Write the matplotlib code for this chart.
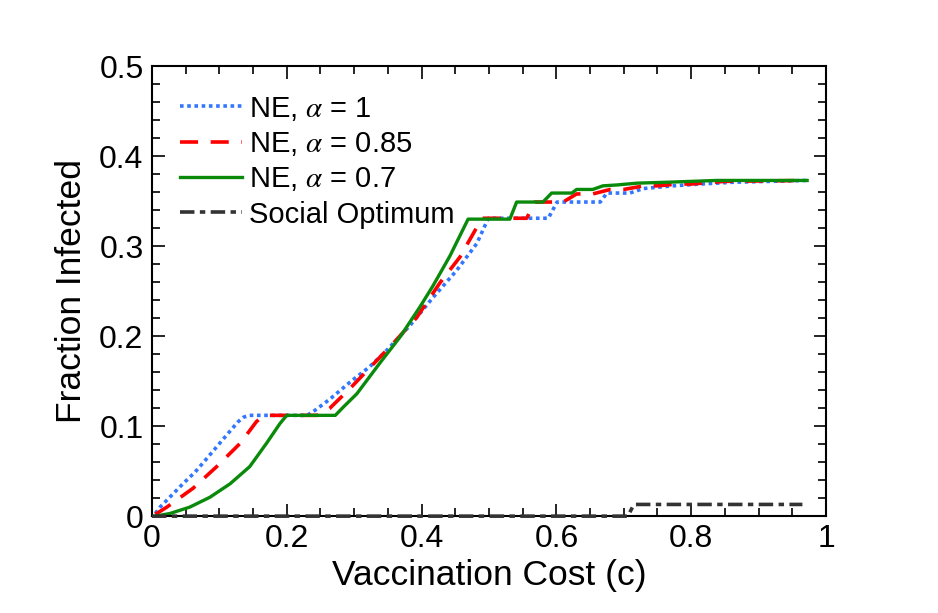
import matplotlib
matplotlib.use("Agg")
import matplotlib.pyplot as plt
from matplotlib.ticker import MultipleLocator, FormatStrFormatter

plt.rcParams['font.family'] = ['Liberation Sans', 'DejaVu Sans']
plt.rcParams['mathtext.fontset'] = 'stix'

# values
blue_x = [0.005, 0.012, 0.029, 0.046, 0.064, 0.079, 0.096, 0.113, 0.128, 0.136, 0.145, 0.23,
          0.239, 0.264, 0.294, 0.323, 0.348, 0.383, 0.417, 0.452, 0.482, 0.499, 0.588,
          0.601, 0.665, 0.675, 0.709, 0.729, 0.773, 0.813, 0.862, 0.972]
blue_y = [0.003, 0.010, 0.023, 0.036, 0.049, 0.062, 0.077, 0.092, 0.105, 0.110, 0.112, 0.112,
          0.116, 0.130, 0.149, 0.166, 0.184, 0.212, 0.243, 0.273, 0.303, 0.331, 0.331,
          0.349, 0.349, 0.359, 0.359, 0.364, 0.367, 0.369, 0.371, 0.373]

red_x = [0.005, 0.022, 0.061, 0.096, 0.131, 0.155, 0.163, 0.172, 0.245, 0.264, 0.294, 0.331,
         0.358, 0.393, 0.427, 0.457, 0.482, 0.49, 0.556, 0.568, 0.61, 0.63, 0.654, 0.68,
         0.70, 0.73, 0.75, 0.78, 0.80, 0.85, 0.972]
red_y = [0.002, 0.010, 0.031, 0.055, 0.081, 0.105, 0.110, 0.112, 0.112, 0.120, 0.142, 0.171,
         0.192, 0.221, 0.259, 0.288, 0.321, 0.331, 0.331, 0.349, 0.349, 0.358, 0.358, 0.363,
         0.363, 0.367, 0.367, 0.369, 0.369, 0.372, 0.373]

green_x = [0.005, 0.027, 0.056, 0.086, 0.116, 0.145, 0.170, 0.190, 0.2, 0.272, 0.285, 0.304,
           0.338, 0.368, 0.398, 0.417, 0.442, 0.469, 0.531, 0.541, 0.58, 0.593, 0.623, 0.63,
           0.654, 0.669, 0.69, 0.72, 0.764, 0.838, 0.972]
green_y = [0.0, 0.003, 0.010, 0.021, 0.036, 0.055, 0.081, 0.103, 0.112, 0.112, 0.122, 0.136,
           0.170, 0.199, 0.233, 0.256, 0.289, 0.33, 0.33, 0.349, 0.349, 0.359, 0.359, 0.363,
           0.363, 0.367, 0.368, 0.37, 0.371, 0.373, 0.373]

so_x = [0.0, 0.706, 0.715, 0.965]
so_y = [0.0, 0.0, 0.013, 0.013]

labels = [r"NE, $\alpha$ = 1", r"NE, $\alpha$ = 0.85", r"NE, $\alpha$ = 0.7", "Social Optimum"]

fig = plt.figure(figsize=(9.38, 6.13), dpi=100)
ax = fig.add_axes([0.162, 0.158, 0.7186, 0.7341])

ax.plot(blue_x, blue_y, color="#3377ff", lw=2.6, linestyle=(0, (1, 1)), label=labels[0])
ax.plot(red_x, red_y, color="#ff0000", lw=2.6, linestyle=(0, (5, 3.5)), label=labels[1])
ax.plot(green_x, green_y, color="#0a8a0a", lw=2.4, label=labels[2])
ax.plot(so_x, so_y, color="#333333", lw=2.6, linestyle=(0, (4, 1.5, 1.5, 1.5)),
        label=labels[3], clip_on=False, zorder=3)

ax.set_xlim(0, 1)
ax.set_ylim(0, 0.5)
ax.xaxis.set_major_locator(MultipleLocator(0.2))
ax.xaxis.set_minor_locator(MultipleLocator(0.05))
ax.yaxis.set_major_locator(MultipleLocator(0.1))
ax.yaxis.set_minor_locator(MultipleLocator(0.02))
ax.xaxis.set_major_formatter(FormatStrFormatter('%g'))
ax.yaxis.set_major_formatter(FormatStrFormatter('%g'))

ax.tick_params(which='both', direction='in', top=True, right=True, labelsize=23, width=1.2)
ax.tick_params(which='major', length=9, pad=6)
ax.tick_params(which='minor', length=5.5)
for s in ax.spines.values():
    s.set_linewidth(1.5)

ax.set_xlabel("Vaccination Cost (c)", fontsize=25.5, labelpad=3)
ax.set_ylabel("Fraction Infected", fontsize=25.5, labelpad=8)

ax.legend(loc="upper left", bbox_to_anchor=(0.012, 0.982), frameon=False, fontsize=21,
          handlelength=2.1, handletextpad=0.25, labelspacing=0.25, borderaxespad=0.3)

fig.savefig("out.png", dpi=100)
